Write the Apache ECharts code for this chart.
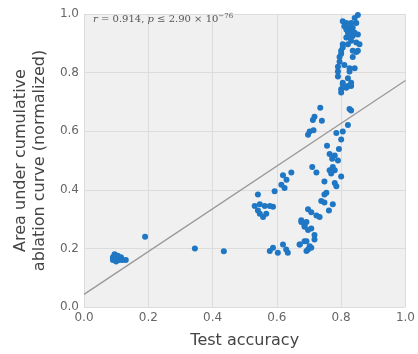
<!DOCTYPE html>
<html>
<head>
<meta charset="utf-8">
<script src="https://cdn.jsdelivr.net/npm/echarts@6/dist/echarts.min.js"></script>
<style>
  html, body { margin: 0; padding: 0; background: #fff; }
  #chart { width: 418px; height: 354px; }
</style>
</head>
<body>
<div id="chart"></div>
<script>
const xTicks = [0, 0.2, 0.4, 0.6, 0.8, 1.0];
const yTicks = [0, 0.2, 0.4, 0.6, 0.8, 1.0];

// [test accuracy, normalized area under cumulative ablation curve]
const lowCluster = [
  [0.09, 0.17], [0.095, 0.18], [0.10, 0.165], [0.105, 0.175], [0.11, 0.16],
  [0.12, 0.16], [0.10, 0.155], [0.115, 0.17], [0.13, 0.16], [0.09, 0.16],
  [0.19, 0.24], [0.345, 0.20], [0.435, 0.19],
];

const midCluster = [
  [0.645, 0.459], [0.619, 0.45], [0.63, 0.434], [0.614, 0.417], [0.624, 0.406],
  [0.593, 0.395], [0.541, 0.384], [0.531, 0.345], [0.547, 0.351], [0.562, 0.345],
  [0.578, 0.345], [0.588, 0.342], [0.541, 0.329], [0.547, 0.318], [0.557, 0.307],
  [0.567, 0.318], [0.578, 0.191], [0.588, 0.202], [0.603, 0.185], [0.619, 0.213],
  [0.629, 0.196], [0.634, 0.185], [0.671, 0.213], [0.686, 0.224], [0.676, 0.29],
  [0.686, 0.274], [0.697, 0.263],
];

const rightCluster = [
  [0.735, 0.68], [0.717, 0.649], [0.712, 0.638], [0.74, 0.636], [0.702, 0.599],
  [0.697, 0.588], [0.714, 0.603], [0.831, 0.671], [0.821, 0.621], [0.805, 0.599],
  [0.785, 0.594], [0.80, 0.572], [0.756, 0.55], [0.793, 0.539], [0.764, 0.522],
  [0.78, 0.517], [0.772, 0.506], [0.79, 0.50], [0.71, 0.478], [0.723, 0.459],
  [0.774, 0.478], [0.764, 0.467], [0.78, 0.467], [0.769, 0.456], [0.80, 0.445],
  [0.748, 0.428], [0.78, 0.423], [0.785, 0.412], [0.754, 0.39], [0.748, 0.384],
  [0.738, 0.362], [0.748, 0.357], [0.774, 0.351], [0.762, 0.329], [0.697, 0.334],
  [0.707, 0.323], [0.723, 0.312], [0.733, 0.307], [0.676, 0.296], [0.692, 0.29],
  [0.686, 0.279], [0.707, 0.268], [0.717, 0.246], [0.717, 0.23], [0.692, 0.224],
  [0.671, 0.213], [0.702, 0.207], [0.697, 0.196], [0.707, 0.202], [0.692, 0.191],
];

const topCluster = [
  [0.852, 0.997], [0.842, 0.986], [0.805, 0.975], [0.816, 0.969], [0.831, 0.969],
  [0.847, 0.969], [0.81, 0.958], [0.826, 0.953], [0.836, 0.953], [0.816, 0.947],
  [0.831, 0.941], [0.842, 0.936], [0.821, 0.936], [0.836, 0.925], [0.852, 0.93],
  [0.826, 0.92], [0.816, 0.92], [0.831, 0.909], [0.847, 0.903], [0.805, 0.897],
  [0.821, 0.897], [0.857, 0.897], [0.805, 0.886], [0.80, 0.875], [0.836, 0.875],
  [0.852, 0.875], [0.80, 0.864], [0.795, 0.853], [0.836, 0.853], [0.795, 0.837],
  [0.81, 0.826], [0.79, 0.82], [0.826, 0.815], [0.842, 0.815], [0.79, 0.804],
  [0.826, 0.804], [0.79, 0.787], [0.821, 0.781], [0.805, 0.765], [0.831, 0.765],
  [0.821, 0.754], [0.80, 0.743], [0.80, 0.732], [0.826, 0.676], [0.805, 0.759],
  [0.831, 0.754], [0.816, 0.748], [0.847, 0.87],
];

// least-squares fit at both ends
const fitLine = [[0, 0.043], [1, 0.773]];

const points = [...lowCluster, ...midCluster, ...rightCluster, ...topCluster];

const chart = echarts.init(document.getElementById('chart'));
chart.setOption({
  backgroundColor: '#ffffff',
  animation: false,
  title: {
    left: 88,
    top: 8,
    text: '{i|r} = 0.914, {i|p} ≤ 2.90 × 10{sup|−76}',
    textStyle: {
      fontFamily: 'DejaVu Serif',
      fontSize: 10,
      fontWeight: 'normal',
      color: '#555',
      rich: {
        i: { fontFamily: 'DejaVu Serif', fontStyle: 'italic', fontSize: 10, color: '#555' },
        sup: { fontFamily: 'DejaVu Serif', fontSize: 7, color: '#555', verticalAlign: 'top', padding: [0, 0, 6, 0] },
      },
    },
  },
  grid: {
    left: 84, right: 12, top: 14, bottom: 38,
    show: true, backgroundColor: '#f0f0f0', borderWidth: 0,
  },
  xAxis: {
    type: 'value',
    min: xTicks[0],
    max: xTicks[xTicks.length - 1],
    interval: 0.2,
    name: 'Test accuracy',
    nameLocation: 'middle',
    nameGap: 26,
    nameTextStyle: { fontFamily: 'DejaVu Sans', fontSize: 16, color: '#444' },
    axisLine: { show: false },
    axisTick: { show: false },
    axisLabel: { fontFamily: 'DejaVu Sans', fontSize: 12, color: '#666', margin: 5, formatter: (v) => v.toFixed(1) },
    splitLine: { lineStyle: { color: '#dcdcdc', width: 1 } },
  },
  yAxis: {
    type: 'value',
    min: yTicks[0],
    max: yTicks[yTicks.length - 1],
    interval: 0.2,
    name: 'Area under cumulative\nablation curve (normalized)',
    nameLocation: 'middle',
    nameGap: 35,
    nameTextStyle: { fontFamily: 'DejaVu Sans', fontSize: 16, color: '#444', lineHeight: 19 },
    axisLine: { show: false },
    axisTick: { show: false },
    axisLabel: { fontFamily: 'DejaVu Sans', fontSize: 12, color: '#666', margin: 5, formatter: (v) => v.toFixed(1) },
    splitLine: { lineStyle: { color: '#dcdcdc', width: 1 } },
  },
  series: [
    {
      type: 'line',
      data: fitLine,
      showSymbol: false,
      lineStyle: { color: '#999999', width: 1.3 },
      z: 1,
    },
    {
      type: 'scatter',
      data: points,
      symbolSize: 6,
      itemStyle: { color: '#1f77c4', opacity: 1 },
      z: 2,
    },
  ],
});
</script>
</body>
</html>
